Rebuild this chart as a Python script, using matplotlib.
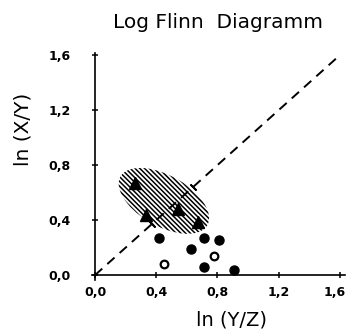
import matplotlib
matplotlib.use("Agg")
import matplotlib.pyplot as plt
import matplotlib.transforms as mtransforms
from matplotlib.patches import Ellipse

# triangles (filled)
tri_x = [0.26, 0.33, 0.54, 0.67]
tri_y = [0.67, 0.44, 0.48, 0.385]
# filled circles
dot_x = [0.42, 0.71, 0.81, 0.63, 0.71, 0.91]
dot_y = [0.27, 0.27, 0.255, 0.19, 0.06, 0.035]
# open circles
ring_x = [0.45, 0.78]
ring_y = [0.08, 0.14]
# marks on the diagonal
mark_xy = [0.37, 0.64]

ticks = [0.0, 0.4, 0.8, 1.2, 1.6]
tick_labels = ["0,0", "0,4", "0,8", "1,2", "1,6"]

plt.rcParams['hatch.linewidth'] = 1.1

fig = plt.figure(figsize=(3.47, 3.33), dpi=100)
ax = fig.add_axes([0.265, 0.159, 0.729, 0.682])

ax.set_xlim(-0.02, 1.633)
ax.set_ylim(-0.036, 1.616)

# hatched field
ell = Ellipse((0.45, 0.54), width=0.67, height=0.36, angle=-34,
              facecolor='none', edgecolor='black', linewidth=0,
              hatch='\\\\\\\\\\\\\\')
ax.add_patch(ell)

# y = x reference line
ax.plot([0, 1.6], [0, 1.6], color='black', linestyle=(0, (5, 3.5)), linewidth=1.4)
ax.plot(mark_xy, mark_xy, linestyle='none', marker=(2, 2, 45), markersize=6,
        markeredgecolor='black', markeredgewidth=1.3)

ax.plot(tri_x, tri_y, linestyle='none', marker='^', markersize=8, color='black')
ax.plot(dot_x, dot_y, linestyle='none', marker='o', markersize=6.5, color='black')
ax.plot(ring_x, ring_y, linestyle='none', marker='o', markersize=5.5,
        markerfacecolor='white', markeredgecolor='black', markeredgewidth=1.6)

for side in ['top', 'right']:
    ax.spines[side].set_visible(False)
ax.spines['left'].set_position(('data', 0))
ax.spines['bottom'].set_position(('data', 0))
ax.spines['left'].set_linewidth(1.2)
ax.spines['bottom'].set_linewidth(1.2)

tick_font = dict(fontsize=9, fontweight='bold')
ax.set_xticks(ticks)
ax.set_xticklabels(tick_labels, **tick_font)
ax.set_yticks(ticks)
ax.set_yticklabels(tick_labels, **tick_font)
ax.tick_params(axis='x', direction='inout', length=5, width=1.1, pad=5)
ax.tick_params(axis='y', direction='inout', length=5, width=1.1, pad=15)

# last x label sits a little left of its tick, as in the original
last = ax.get_xticklabels()[-1]
last.set_transform(last.get_transform() +
                   mtransforms.ScaledTranslation(-5 / 100, 0, fig.dpi_scale_trans))

ax.set_xlabel("ln (Y/Z)", fontsize=14)
ax.xaxis.set_label_coords(0.55, -0.135)
ax.set_ylabel("ln (X/Y)", fontsize=14.5)
ax.yaxis.set_label_coords(-0.237, 0.665)
ax.set_title("Log Flinn  Diagramm", fontsize=14.5, pad=18)

fig.savefig("out.png", dpi=100)
